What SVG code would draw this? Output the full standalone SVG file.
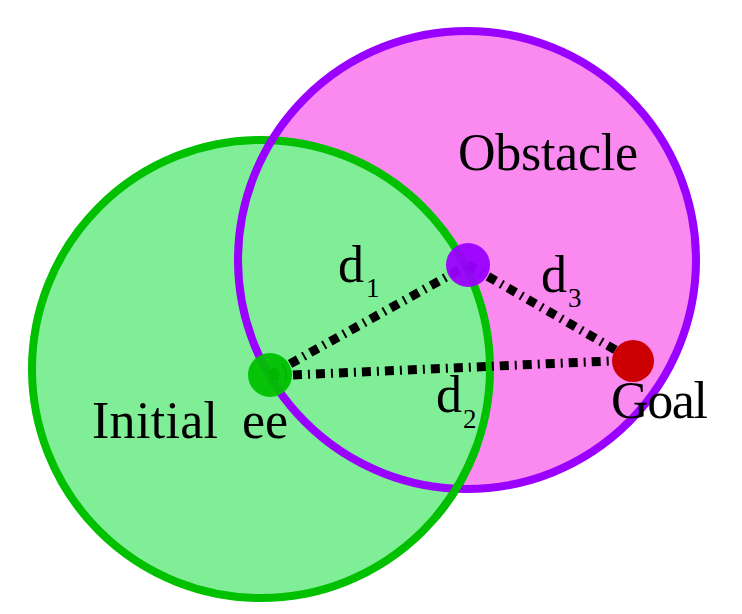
<svg xmlns="http://www.w3.org/2000/svg" width="742" height="614" viewBox="0 0 742 614">
<style>
.lbl{font-family:"Liberation Serif","DejaVu Serif",serif;fill:#000;}
.big{font-size:52px;}
.sub{font-size:27px;}
.conn{stroke:#000;stroke-width:9;fill:none;stroke-dasharray:9 6 2 6;}
</style>
<rect width="742" height="614" fill="#fff"/>
<g id="obstacle-fill"><circle cx="467" cy="260" r="229" fill="#fa89f0"/></g>
<g id="initial-region"><circle cx="261" cy="369" r="229" fill="#80ee96" stroke="#00c000" stroke-width="8"/></g>
<g id="obstacle-ring"><circle cx="467" cy="260" r="229" fill="none" stroke="#9a00ff" stroke-width="8"/></g>
<g id="green-over"><path d="M 476.2 447.3 A 229 229 0 0 1 436.4 516.2" fill="none" stroke="#00c000" stroke-width="8"/></g>
<g id="connectors">
<line class="conn" x1="270" y1="375" x2="468" y2="265"/>
<line class="conn" x1="270" y1="376" x2="633" y2="360"/>
<line class="conn" x1="468" y1="265" x2="633" y2="360"/>
</g>
<g id="ee"><circle cx="270" cy="375" r="22" fill="#00c000" opacity="0.95"/></g>
<g id="obs-point"><circle cx="468" cy="265" r="22" fill="#9a00ff" opacity="0.95"/></g>
<g id="goal"><circle cx="633" cy="361" r="21" fill="#cc0000"/></g>
<g id="labels">
<text class="lbl big" x="458" y="170" textLength="180">Obstacle</text>
<text class="lbl big" x="92" y="438" textLength="126">Initial</text>
<text class="lbl big" x="242" y="438">ee</text>
<text class="lbl big" x="611" y="418" textLength="97">Goal</text>
<text class="lbl big" x="338" y="282">d</text><text class="lbl sub" x="366" y="297">1</text>
<text class="lbl big" x="436" y="412">d</text><text class="lbl sub" x="463" y="428">2</text>
<text class="lbl big" x="541" y="292">d</text><text class="lbl sub" x="568" y="307">3</text>
</g>
</svg>
